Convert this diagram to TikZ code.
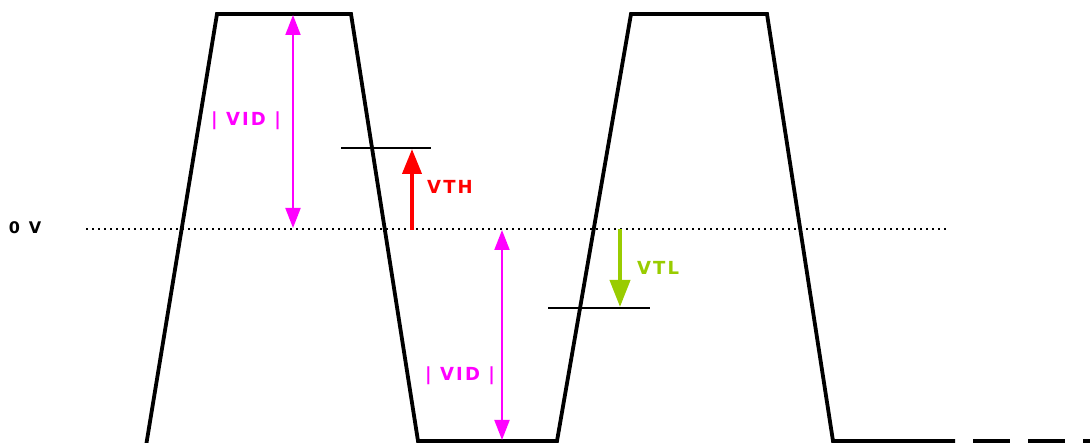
\documentclass[tikz,border=0pt]{standalone}
\usepackage{fontspec}
\setmainfont{DejaVu Sans}
\usepackage{tikz}
\usetikzlibrary{arrows.meta}

\definecolor{vidpink}{RGB}{255,0,255}
\definecolor{vthred}{RGB}{255,0,0}
\definecolor{vtlgreen}{RGB}{153,204,0}

\begin{document}
\begin{tikzpicture}[x=1pt,y=-1pt,
  wave/.style={line width=3.8pt,line join=miter},
  level/.style={line width=2pt},
  lbl/.style={font=\fontsize{18}{18}\selectfont\bfseries\addfontfeature{LetterSpace=12}}]
\useasboundingbox (0,0) rectangle (1090,443);
% zero line
\draw[line width=1.6pt,dash pattern=on 1.6pt off 4.4pt] (86,229) -- (948,229);
\node[font=\fontsize{16}{16}\selectfont\bfseries\addfontfeature{LetterSpace=20}] at (25,228) {0 V};
% waveform
\draw[wave] (146,446) -- (217,14) -- (351,14) -- (418,441) -- (557,441)
  -- (631,14) -- (767,14) -- (833,441) -- (955,441);
\draw[wave,dash pattern=on 37pt off 18pt] (973,441) -- (1095,441);
% threshold levels
\draw[level] (341,148) -- (431,148);
\draw[level] (548,308) -- (650,308);
% |VID|
\draw[vidpink,line width=2pt,{Triangle[width=15pt,length=20pt]}-{Triangle[width=15pt,length=20pt]}] (293,15) -- (293,228);
\node[lbl,text=vidpink] at (246,121) {| VID |};
\draw[vidpink,line width=2pt,{Triangle[width=15pt,length=20pt]}-{Triangle[width=15pt,length=20pt]}] (502,230) -- (502,440);
\node[lbl,text=vidpink] at (460,376) {| VID |};
% VTH
\draw[vthred,line width=4pt,-{Triangle[width=19pt,length=25pt]}] (412,230) -- (412,149);
\node[lbl,text=vthred] at (450,187) {VTH};
% VTL
\draw[vtlgreen,line width=4pt,-{Triangle[width=20pt,length=27pt]}] (620,229) -- (620,307);
\node[lbl,text=vtlgreen] at (658,268) {VTL};
\end{tikzpicture}
\end{document}
